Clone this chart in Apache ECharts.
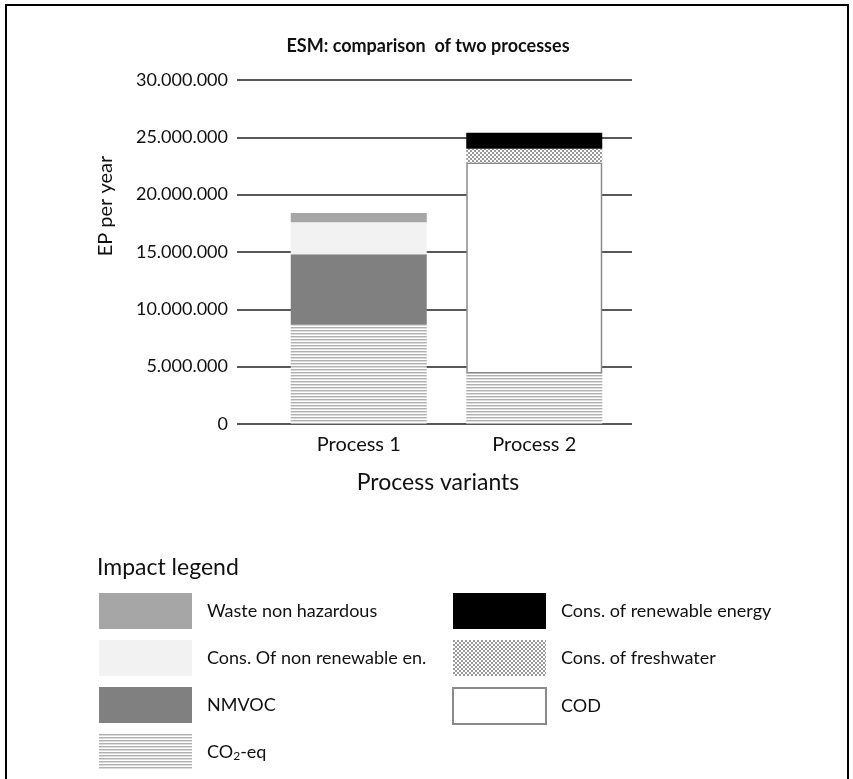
<!DOCTYPE html>
<html>
<head>
<meta charset="utf-8">
<script src="https://cdn.jsdelivr.net/npm/echarts@6/dist/echarts.min.js"></script>
<style>html,body{margin:0;padding:0;background:#fff}#c{width:853px;height:779px}</style>
</head>
<body>
<div id="c"></div>
<script>
const categories = ['Process 1', 'Process 2'];
const yTicks = [0, 5000000, 10000000, 15000000, 20000000, 25000000, 30000000];
const co2eq = [8650000, 4400000];
const nmvoc = [6150000, '-'];
const cod = ['-', 18400000];
const nonRenewable = [2800000, '-'];
const freshwater = ['-', 1200000];
const wasteNonHaz = [800000, '-'];
const renewable = ['-', 1400000];
const legendLeft = ['Waste non hazardous', 'Cons. Of non renewable en.', 'NMVOC', 'CO2-eq'];
const legendRight = ['Cons. of renewable energy', 'Cons. of freshwater', 'COD'];

function stripePattern() {
  const c = document.createElement('canvas');
  c.width = 4; c.height = 3;
  const g = c.getContext('2d');
  g.fillStyle = '#ffffff'; g.fillRect(0, 0, 4, 3);
  g.fillStyle = '#b0b0b0'; g.fillRect(0, 0, 4, 1);
  g.fillStyle = '#dcdcdc'; g.fillRect(0, 1, 4, 1);
  return c;
}
function checkerPattern() {
  const c = document.createElement('canvas');
  c.width = 4; c.height = 4;
  const g = c.getContext('2d');
  g.fillStyle = '#ffffff'; g.fillRect(0, 0, 4, 4);
  g.fillStyle = '#9a9a9a'; g.fillRect(0, 0, 2, 2); g.fillRect(2, 2, 2, 2);
  return c;
}
const stripes = { image: stripePattern(), repeat: 'repeat' };
const checker = { image: checkerPattern(), repeat: 'repeat' };

const FONT = 'Lato';
const fmt = v => String(v).replace(/\B(?=(\d{3})+(?!\d))/g, '.');

const chart = echarts.init(document.getElementById('c'));
function bar(name, data, itemStyle) {
  return { name, type: 'bar', stack: 'total', xAxisIndex: 1, yAxisIndex: 1,
    barWidth: 136, data, itemStyle, emphasis: { disabled: true } };
}
const legendCommon = {
  orient: 'vertical', icon: 'rect', itemWidth: 93, itemHeight: 36, itemGap: 11,
  padding: 0, selectedMode: false,
  textStyle: { fontFamily: FONT, fontSize: 18, color: '#111', padding: [0, 0, 0, 10],
    rich: { sub: { fontFamily: FONT, fontSize: 12, padding: [9, 0, 0, 0], color: '#111' } } },
  formatter: n => n === 'CO2-eq' ? 'CO{sub|2}-eq' : n
};
chart.setOption({
  backgroundColor: '#fff',
  animation: false,
  title: [
    { text: 'ESM: comparison  of two processes', left: 423, textAlign: 'center', top: 32,
      textStyle: { fontFamily: FONT, fontSize: 18, fontWeight: 'bold', color: '#111' } },
    { text: 'Impact legend', left: 92, top: 551,
      textStyle: { fontFamily: FONT, fontSize: 23, fontWeight: 'normal', color: '#111' } }
  ],
  graphic: [
    { type: 'rect', shape: { x: 6, y: 5, width: 842, height: 800 }, silent: true,
      style: { fill: 'none', stroke: '#000', lineWidth: 2 } }
  ],
  grid: [
    { left: 237, right: 221, top: 80, bottom: 355 },
    { left: 271, right: 231, top: 80, bottom: 355 }
  ],
  xAxis: [
    { type: 'category', gridIndex: 0, data: categories, show: false },
    { type: 'category', gridIndex: 1, data: categories,
      axisLine: { show: false }, axisTick: { show: false },
      axisLabel: { fontFamily: FONT, fontSize: 20, color: '#111', margin: 11 },
      name: 'Process variants', nameLocation: 'middle', nameGap: 47,
      nameTextStyle: { fontFamily: FONT, fontSize: 23, color: '#111', padding: [0, 17, 0, 0] } }
  ],
  yAxis: [
    { type: 'value', gridIndex: 0, min: yTicks[0], max: yTicks[yTicks.length - 1], interval: 5000000,
      axisLine: { show: false }, axisTick: { show: false },
      axisLabel: { fontFamily: FONT, fontSize: 18, color: '#111', margin: 9, formatter: fmt },
      splitLine: { lineStyle: { color: '#222', width: 1.6 } },
      name: 'EP per year', nameLocation: 'middle', nameGap: 121, nameRotate: 90,
      nameTextStyle: { fontFamily: FONT, fontSize: 20, color: '#111', padding: [0, 0, 0, 92] } },
    { type: 'value', gridIndex: 1, min: yTicks[0], max: yTicks[yTicks.length - 1], interval: 5000000,
      show: false, splitLine: { show: false } }
  ],
  legend: [
    Object.assign({ data: legendLeft, left: 99, top: 593 }, legendCommon),
    Object.assign({ data: legendRight, left: 452, top: 593 }, legendCommon)
  ],
  series: [
    bar('CO2-eq', co2eq, { color: stripes }),
    bar('NMVOC', nmvoc, { color: '#808080' }),
    bar('COD', cod, { color: '#ffffff', borderColor: '#8a8a8a', borderWidth: 1.5 }),
    bar('Cons. Of non renewable en.', nonRenewable, { color: '#f2f2f2' }),
    bar('Cons. of freshwater', freshwater, { color: checker }),
    bar('Waste non hazardous', wasteNonHaz, { color: '#a6a6a6' }),
    bar('Cons. of renewable energy', renewable, { color: '#000000' })
  ]
});
</script>
</body>
</html>
